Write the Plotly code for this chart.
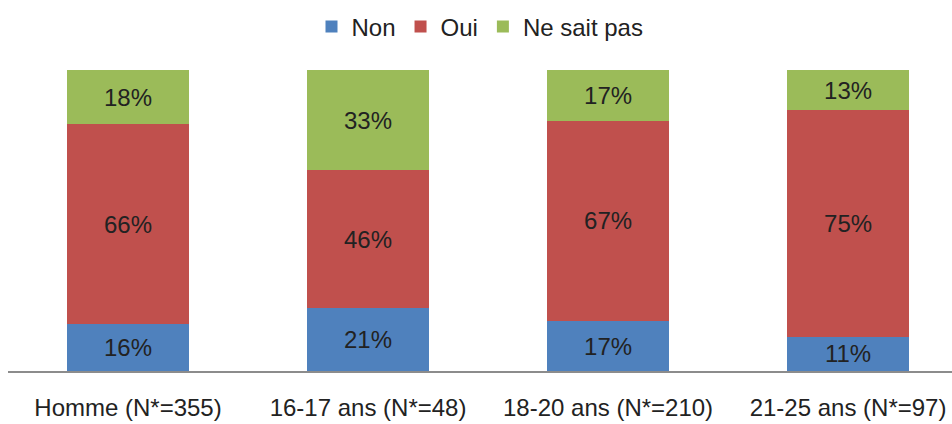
import plotly.graph_objects as go

categories = ["Homme (N*=355)", "16-17 ans (N*=48)", "18-20 ans (N*=210)", "21-25 ans (N*=97)"]

# shares (labels show them rounded)
non = [15.6, 20.9, 16.6, 11.3]
oui = [66.4, 45.8, 66.6, 75.3]
nsp = [18.0, 33.3, 16.8, 13.4]

series = [("Non", non, "#4F81BD"), ("Oui", oui, "#C0504D"), ("Ne sait pas", nsp, "#9BBB59")]

fig = go.Figure()
for name, vals, color in series:
    fig.add_trace(go.Bar(
        x=categories, y=vals, name=name,
        marker=dict(color=color, line=dict(width=0)),
        width=0.508,
        texttemplate="%{y:.0f}%",
        textposition="inside",
        insidetextanchor="middle",
        textangle=0,
        textfont=dict(size=24, color="#222222"),
    ))

fig.update_layout(
    barmode="stack",
    width=952, height=424,
    margin=dict(l=8, r=0, t=70, b=53),
    paper_bgcolor="white", plot_bgcolor="white",
    font=dict(family="Liberation Sans, Arial, sans-serif", size=24, color="#222222"),
    uniformtext=dict(minsize=24, mode="show"),
    showlegend=True,
    legend=dict(orientation="h", x=0.5, xanchor="center", y=1.143, yanchor="middle",
                font=dict(size=24), itemwidth=30, traceorder="normal"),
    xaxis=dict(range=[-0.5, 3.433], showline=True, linecolor="#8C8C8C", linewidth=2,
               ticks="", ticklabelstandoff=14, tickfont=dict(size=24)),
    yaxis=dict(range=[0, 100], visible=False),
)

# drop the browser's default 8px body margin so the figure sits at the corner
fig.write_html("out.html", config={"displayModeBar": False},
               post_script="document.body.style.margin='0';")
